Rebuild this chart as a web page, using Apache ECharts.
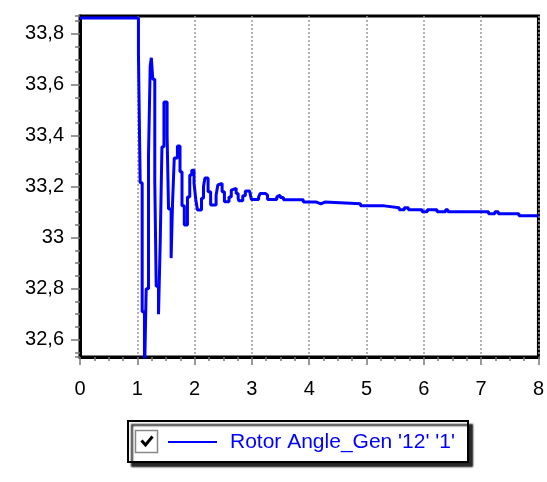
<!DOCTYPE html>
<html>
<head>
<meta charset="utf-8">
<script src="https://cdn.jsdelivr.net/npm/echarts@6/dist/echarts.min.js"></script>
<style>
  html, body { margin: 0; padding: 0; background: #fff; }
  #chart { width: 547px; height: 482px; }
</style>
</head>
<body>
<div id="chart"></div>
<script>
// Rotor angle of generator '12' '1' after a disturbance at t = 1 s (stepwise record)
const seriesName = "Rotor Angle_Gen '12' '1'";

// Start time of each step (s)
const stepTimes = [
  0, 1.02, 1.05, 1.085, 1.125, 1.155, 1.195, 1.225, 1.245, 1.27,
  1.305, 1.33, 1.37, 1.40, 1.43, 1.465, 1.52, 1.545, 1.59, 1.615,
  1.645, 1.70, 1.745, 1.78, 1.82, 1.875, 1.915, 1.95, 1.99, 2.02,
  2.05, 2.12, 2.155, 2.18, 2.235, 2.28, 2.375, 2.405, 2.425, 2.48,
  2.52, 2.60, 2.64, 2.655, 2.725, 2.76, 2.77, 2.84, 2.885, 2.96,
  2.99, 3.117, 3.146, 3.233, 3.273, 3.434, 3.451, 3.493, 3.55, 3.896,
  4.126, 4.203, 4.272, 4.895, 5.31, 5.57, 5.66, 5.73, 5.97, 6.06,
  6.23, 6.38, 6.42, 7.13, 7.24, 7.30, 7.66, 8
];

// Rotor angle held during each step (deg)
const rotorAngle = [
  33.862, 33.719, 33.216, 32.71, 32.45, 32.80, 33.318, 33.673, 33.706, 33.622,
  33.222, 32.81, 32.70, 32.984, 33.357, 33.533, 33.40, 33.113, 32.92, 33.136,
  33.313, 33.36, 33.259, 33.125, 33.05, 33.16, 33.246, 33.265, 33.214, 33.15,
  33.109, 33.155, 33.20, 33.234, 33.18, 33.128, 33.167, 33.207, 33.213, 33.18,
  33.141, 33.16, 33.187, 33.194, 33.174, 33.155, 33.145, 33.165, 33.183, 33.176,
  33.15, 33.16, 33.174, 33.167, 33.15, 33.16, 33.167, 33.158, 33.149, 33.14,
  33.133, 33.14, 33.133, 33.125, 33.118, 33.11, 33.118, 33.11, 33.102, 33.11,
  33.102, 33.11, 33.102, 33.094, 33.102, 33.094, 33.086, 33.086
];

// Axis settings
const xMin = 0, xMax = 8, xStep = 1;
const yMin = 32.532, yMax = 33.87;

// Staircase: each value is held until the next step time
const points = [];
stepTimes.forEach((t, i) => {
  if (i > 0) points.push([t, rotorAngle[i - 1]]);
  points.push([t, rotorAngle[i]]);
});

const FONT = "'Liberation Sans', Arial, sans-serif";
const chart = echarts.init(document.getElementById('chart'), null, { renderer: 'canvas' });

const fmtComma = v => {
  const r = Math.round(v * 10) / 10;
  return (Number.isInteger(r) ? String(r) : r.toFixed(1)).replace('.', ',');
};

chart.setOption({
  animation: false,
  backgroundColor: '#fff',
  grid: {
    left: 80, right: 5, top: 16, bottom: 125,
    show: true, borderColor: '#000', borderWidth: 3, backgroundColor: 'transparent'
  },
  xAxis: {
    type: 'value',
    min: xMin, max: xMax, interval: xStep,
    axisLine: { show: true, onZero: false, lineStyle: { color: '#000', width: 3 } },
    axisTick: { show: true, inside: false, length: 8, lineStyle: { color: '#777', width: 1.5 } },
    minorTick: { show: true, splitNumber: 4, length: 4, lineStyle: { color: '#777', width: 1.5 } },
    axisLabel: { color: '#000', fontSize: 20, fontFamily: FONT, margin: 22 },
    splitLine: { show: true, lineStyle: { color: '#999', width: 1.5, type: [2, 2] } }
  },
  yAxis: [
    {
      type: 'value',
      min: yMin, max: yMax, splitNumber: 6,
      position: 'left',
      axisLine: { show: true, onZero: false, lineStyle: { color: '#000', width: 3 } },
      axisTick: { show: true, inside: false, length: 9, lineStyle: { color: '#777', width: 1.5 } },
      axisLabel: {
        color: '#000', fontSize: 20, fontFamily: FONT, margin: 16,
        showMinLabel: false, showMaxLabel: false,
        formatter: fmtComma
      },
      splitLine: { show: false }
    },
    {
      // finer tick marks every 0.05
      type: 'value',
      min: yMin, max: yMax, splitNumber: 27,
      position: 'left', offset: 0,
      axisLine: { show: false },
      axisTick: { show: true, inside: false, length: 5, lineStyle: { color: '#777', width: 1.5 } },
      axisLabel: { show: false },
      splitLine: { show: false }
    }
  ],
  series: [{
    name: seriesName,
    type: 'line',
    yAxisIndex: 0,
    data: points,
    showSymbol: false,
    symbol: 'none',
    clip: true,
    lineStyle: { color: '#0000ff', width: 3, join: 'bevel', cap: 'butt' }
  }],
  graphic: [
    {
      type: 'rect',
      shape: { x: 128, y: 421, width: 340, height: 41 },
      style: { fill: '#fff', stroke: '#000', lineWidth: 2,
               shadowColor: 'rgba(0,0,0,0.85)', shadowBlur: 2, shadowOffsetX: 4, shadowOffsetY: 4 }
    },
    {
      type: 'rect',
      shape: { x: 135.5, y: 430.5, width: 22, height: 22 },
      style: { fill: '#fff', stroke: '#888', lineWidth: 1.5 }
    },
    {
      type: 'polyline',
      shape: { points: [[141.5, 440.5], [145.5, 445], [152.5, 436.5]] },
      style: { stroke: '#000', lineWidth: 3, fill: null }
    },
    {
      type: 'line',
      shape: { x1: 168, y1: 442, x2: 217, y2: 442 },
      style: { stroke: '#0000ff', lineWidth: 2 }
    },
    {
      type: 'text',
      x: 230, y: 442,
      style: { text: seriesName, fill: '#0000ff', fontSize: 21, fontFamily: FONT,
               verticalAlign: 'middle', align: 'left' }
    }
  ]
});
</script>
</body>
</html>
